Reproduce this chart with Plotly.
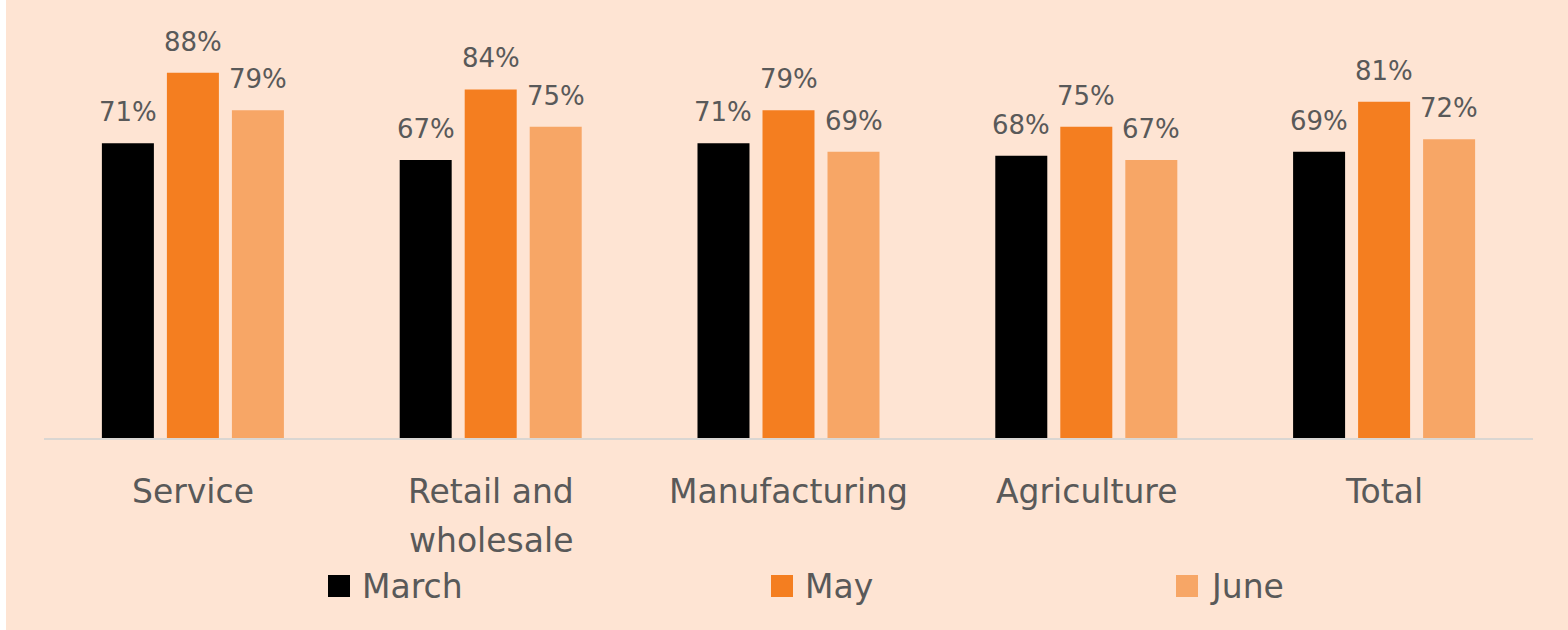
import plotly.graph_objects as go

# Share of firms by sector, three survey months (%)
categories = ["Service", "Retail and\nwholesale", "Manufacturing", "Agriculture", "Total"]
series_names = ["March", "May", "June"]
march = [71, 67, 71, 68, 69]
may = [88, 84, 79, 75, 81]
june = [79, 75, 69, 67, 72]

values = [march, may, june]
colors = ["#000000", "#F47E20", "#F7A666"]

BG = "#FEE4D3"
TEXT = "#595959"
FONT = "DejaVu Sans"

W, H = 1568, 630
ML, MR, MT, MB = 44, 35, 23, 192
PW = W - ML - MR
PH = H - MT - MB

slot = 0.2183      # distance between bar centres inside a group
bar_w = 0.1746     # bar width in category units
offsets = [-slot, 0.0, slot]

fig = go.Figure()
for name, vals, col, off in zip(series_names, values, colors, offsets):
    fig.add_trace(go.Bar(
        x=[i + off for i in range(len(categories))],
        y=vals,
        width=bar_w,
        name=name,
        marker=dict(color=col, line=dict(width=0)),
        showlegend=False,
        hoverinfo="skip",
    ))

annotations = []
# value labels above bars
for vals, off in zip(values, offsets):
    for i, v in enumerate(vals):
        annotations.append(dict(
            x=i + off, y=v, xref="x", yref="y",
            text=f"{v}%", showarrow=False,
            yanchor="bottom", yshift=14,
            font=dict(family=FONT, size=26, color=TEXT),
        ))

# category labels under the axis, one annotation per line
for i, cat in enumerate(categories):
    for j, line in enumerate(cat.split("\n")):
        annotations.append(dict(
            x=i, y=0, xref="x", yref="paper",
            text=line, showarrow=False,
            yanchor="middle", yshift=-53 - 49 * j,
            font=dict(family=FONT, size=33, color=TEXT),
        ))

def px_x(px):
    return (px - ML) / PW

def px_y(py):
    return (H - MB - py) / PH

shapes = [
    # peach canvas, leaving a thin white strip on the left edge
    dict(type="rect", xref="paper", yref="paper", layer="below",
         x0=px_x(6), x1=px_x(W + 2), y0=px_y(H + 2), y1=px_y(-2),
         fillcolor=BG, line=dict(width=0)),
]

# legend: square swatch + label
legend_x = [328, 771, 1176]
for name, col, lx in zip(series_names, colors, legend_x):
    shapes.append(dict(type="rect", xref="paper", yref="paper",
                       x0=px_x(lx), x1=px_x(lx + 22),
                       y0=px_y(597), y1=px_y(575),
                       fillcolor=col, line=dict(width=0)))
    annotations.append(dict(
        x=px_x(lx + 32), y=px_y(586), xref="paper", yref="paper",
        text=name, showarrow=False, xanchor="left", yanchor="middle",
        font=dict(family=FONT, size=33, color=TEXT),
    ))

fig.update_layout(
    width=W, height=H,
    margin=dict(l=ML, r=MR, t=MT, b=MB, pad=0),
    paper_bgcolor="#FFFFFF",
    plot_bgcolor="rgba(0,0,0,0)",
    barmode="overlay",
    xaxis=dict(range=[-0.5, len(categories) - 0.5], showticklabels=False,
               showgrid=False, zeroline=False, showline=True,
               linecolor="#DAD6D2", linewidth=2, fixedrange=True),
    yaxis=dict(range=[0, 100], visible=False, showgrid=False, zeroline=False,
               fixedrange=True),
    annotations=annotations,
    shapes=shapes,
    showlegend=False,
)

fig.write_html("out.html", config={"displayModeBar": False})
